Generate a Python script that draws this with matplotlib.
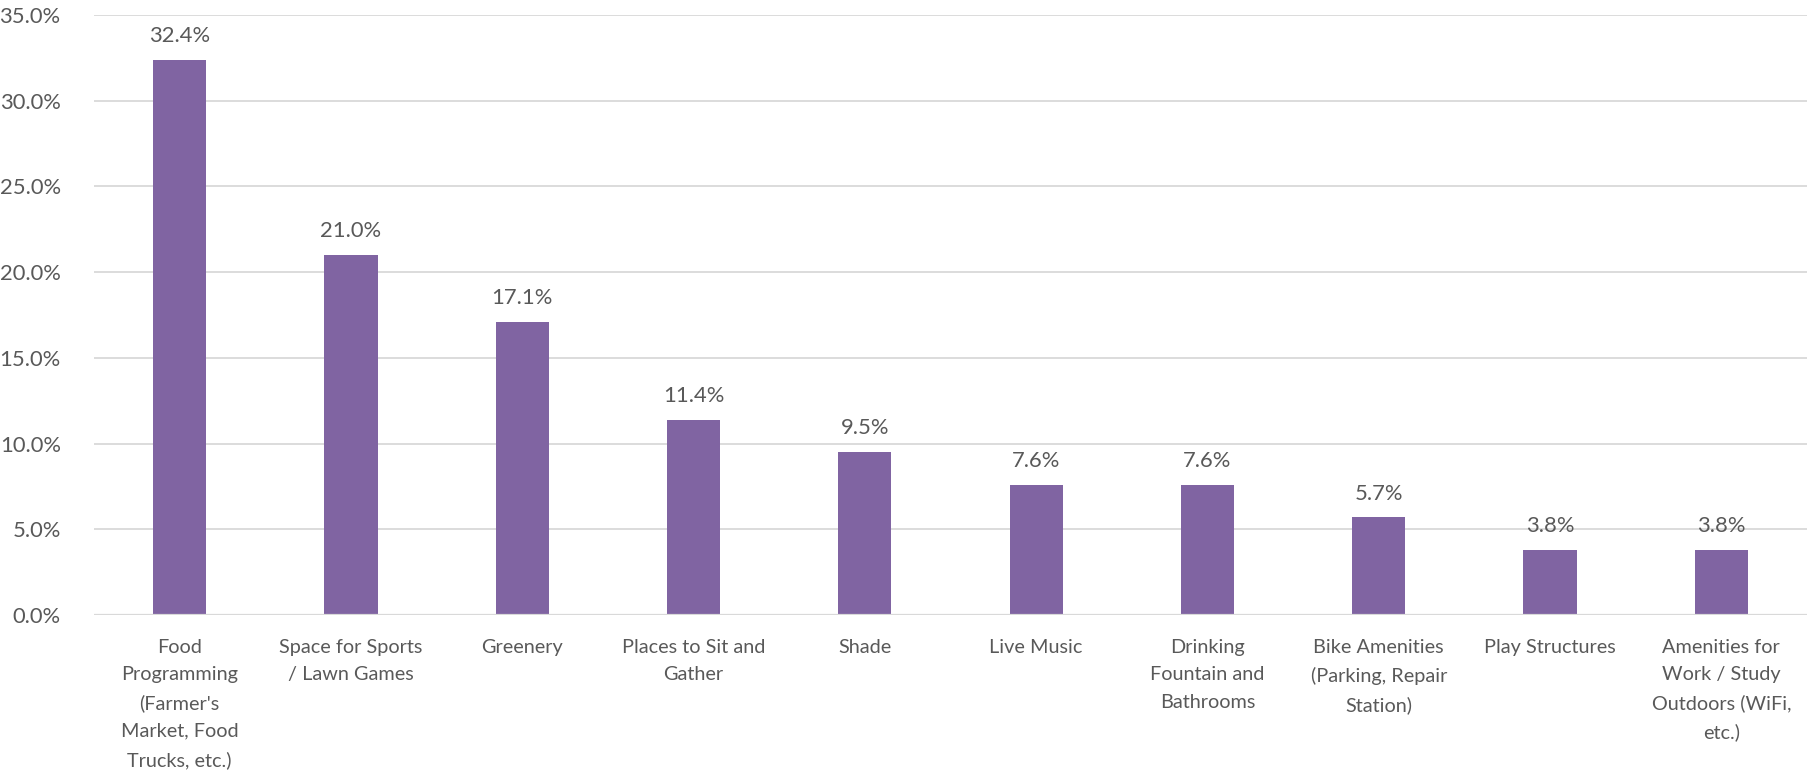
import numpy as np
import matplotlib.pyplot as plt
from matplotlib.ticker import FuncFormatter

plt.rcParams['font.family'] = ['Lato', 'DejaVu Sans']

categories = ["Food\nProgramming\n(Farmer's\nMarket, Food\nTrucks, etc.)",
              "Space for Sports\n/ Lawn Games",
              "Greenery",
              "Places to Sit and\nGather",
              "Shade",
              "Live Music",
              "Drinking\nFountain and\nBathrooms",
              "Bike Amenities\n(Parking, Repair\nStation)",
              "Play Structures",
              "Amenities for\nWork / Study\nOutdoors (WiFi,\netc.)"]
values = [32.4, 21.0, 17.1, 11.4, 9.5, 7.6, 7.6, 5.7, 3.8, 3.8]
yticks = [0, 5, 10, 15, 20, 25, 30, 35]

text_color = "#595959"
grid_color = "#D9D9D9"
bar_color = "#8064A2"
fs = 14.3   # category labels
fs_num = 15.8  # numbers (ticks and value labels)

fig = plt.figure(figsize=(18.12, 7.78), dpi=100)
ax = fig.add_axes([0.0519, 0.2095, 0.9453, 0.7712])

x = np.arange(len(categories))
bars = ax.bar(x, values, width=0.31, color=bar_color, zorder=3)

for b, v in zip(bars, values):
    ax.text(b.get_x() + b.get_width() / 2, v + 0.8, f"{v:.1f}%",
            ha="center", va="bottom", fontsize=fs_num, color=text_color)

ax.set_xlim(-0.5, len(categories) - 0.5)
ax.set_ylim(0, 35)
ax.set_yticks(yticks)
ax.yaxis.set_major_formatter(FuncFormatter(lambda v, p: f"{v:.1f}%"))
ax.set_xticks(x)
ax.set_xticklabels(categories, linespacing=1.75)
ax.tick_params(axis="y", length=0, pad=24, labelsize=fs_num, labelcolor=text_color)
ax.tick_params(axis="x", length=0, pad=17, labelsize=fs, labelcolor=text_color)

ax.grid(axis="y", color=grid_color, linewidth=1.3, zorder=0)
for s in ax.spines.values():
    s.set_visible(False)
ax.axhline(0, color=grid_color, linewidth=1.6, zorder=4)

fig.savefig("out.png", dpi=100)
